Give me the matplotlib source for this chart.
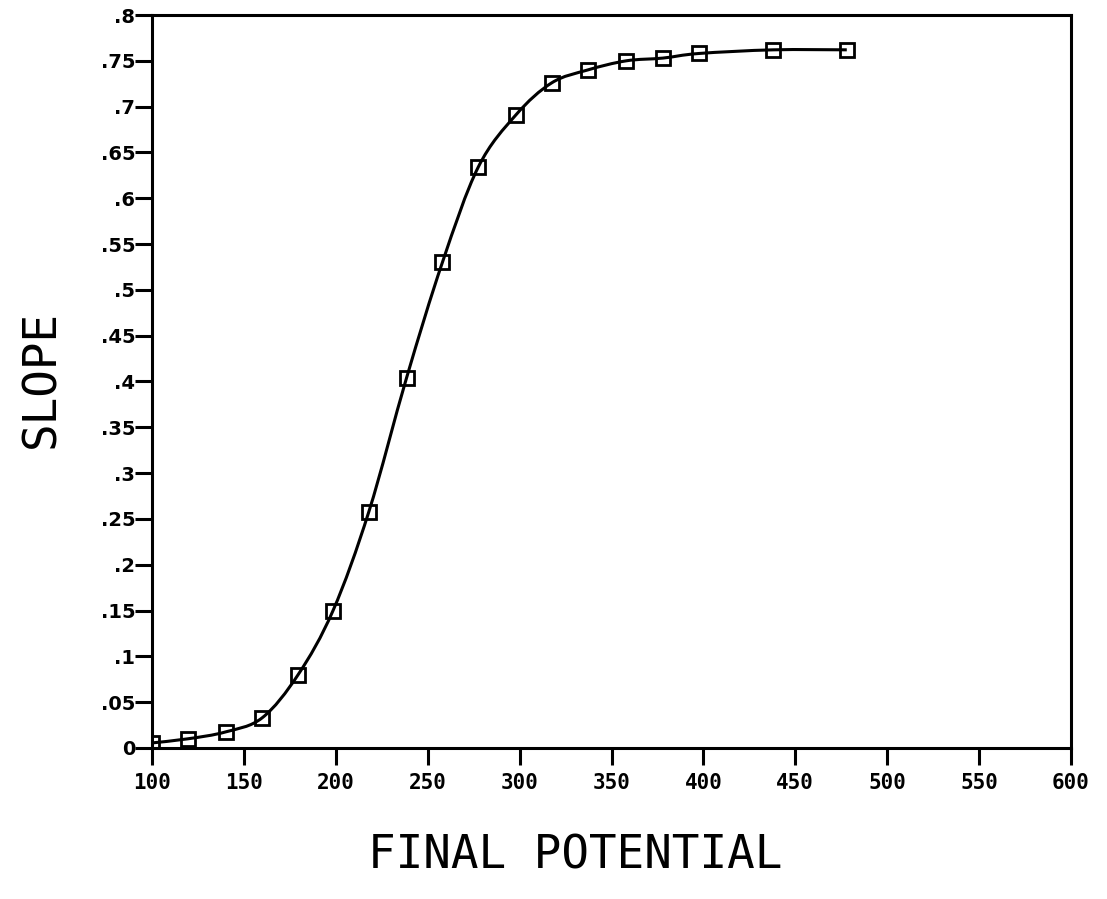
import matplotlib
matplotlib.use("Agg")
import matplotlib.pyplot as plt
from matplotlib.path import Path
from matplotlib.patches import PathPatch
import numpy as np

# values
potential = [100, 119.5, 140, 160, 179.5, 198.5, 218, 238.5, 258, 277.5,
             298, 317.5, 337, 358, 378, 397.5, 438, 478]
slope = [0.0055, 0.010, 0.0175, 0.033, 0.080, 0.150, 0.258, 0.404, 0.530, 0.634,
         0.691, 0.726, 0.740, 0.750, 0.753, 0.758, 0.762, 0.762]

xticks = [100, 150, 200, 250, 300, 350, 400, 450, 500, 550, 600]
xticklabels = ["100", "150", "200", "250", "300", "350", "400", "450", "500", "550", "600"]
yticks = [0, .05, .1, .15, .2, .25, .3, .35, .4, .45, .5, .55, .6, .65, .7, .75, .8]
yticklabels = ["0", ".05", ".1", ".15", ".2", ".25", ".3", ".35", ".4", ".45",
               ".5", ".55", ".6", ".65", ".7", ".75", ".8"]

fig = plt.figure(figsize=(11.07, 8.99), dpi=100)
ax = fig.add_axes([0.1373, 0.168, 0.8302, 0.8153])

# smooth curve through the points (catmull-rom -> bezier segments)
x = np.array(potential)
y = np.array(slope)
verts = [(x[0], y[0])]
codes = [Path.MOVETO]
for i in range(len(x) - 1):
    p0 = (x[i - 1], y[i - 1]) if i > 0 else (x[i], y[i])
    p3 = (x[i + 2], y[i + 2]) if i + 2 < len(x) else (x[i + 1], y[i + 1])
    c1 = (x[i] + (x[i + 1] - p0[0]) / 6, y[i] + (y[i + 1] - p0[1]) / 6)
    c2 = (x[i + 1] - (p3[0] - x[i]) / 6, y[i + 1] - (p3[1] - y[i]) / 6)
    verts += [c1, c2, (x[i + 1], y[i + 1])]
    codes += [Path.CURVE4] * 3
ax.add_patch(PathPatch(Path(verts, codes), fill=False, lw=2.2, color="black"))

ax.plot(potential, slope, ls="none", marker="s", ms=9.5, mfc="none",
        mec="black", mew=2)

ax.set_xlim(100, 600)
ax.set_ylim(0, 0.8)
ax.set_xticks(xticks)
ax.set_xticklabels(xticklabels, family="DejaVu Sans Mono", fontweight="bold", fontsize=15)
ax.set_yticks(yticks)
ax.set_yticklabels(yticklabels, family="DejaVu Sans", fontweight="bold", fontsize=14)
ax.tick_params(axis="both", direction="out", length=12, width=2.2, color="black")
ax.tick_params(axis="x", pad=6)
ax.tick_params(axis="y", pad=0)
for s in ax.spines.values():
    s.set_linewidth(2.2)

fig.text(0.038, 0.578, "SLOPE", rotation=90, ha="center", va="center",
         family="DejaVu Sans Mono", fontsize=33)
fig.text(0.52, 0.048, "FINAL POTENTIAL", ha="center", va="center",
         family="DejaVu Sans Mono", fontsize=33)

fig.savefig("out.png", dpi=100)
